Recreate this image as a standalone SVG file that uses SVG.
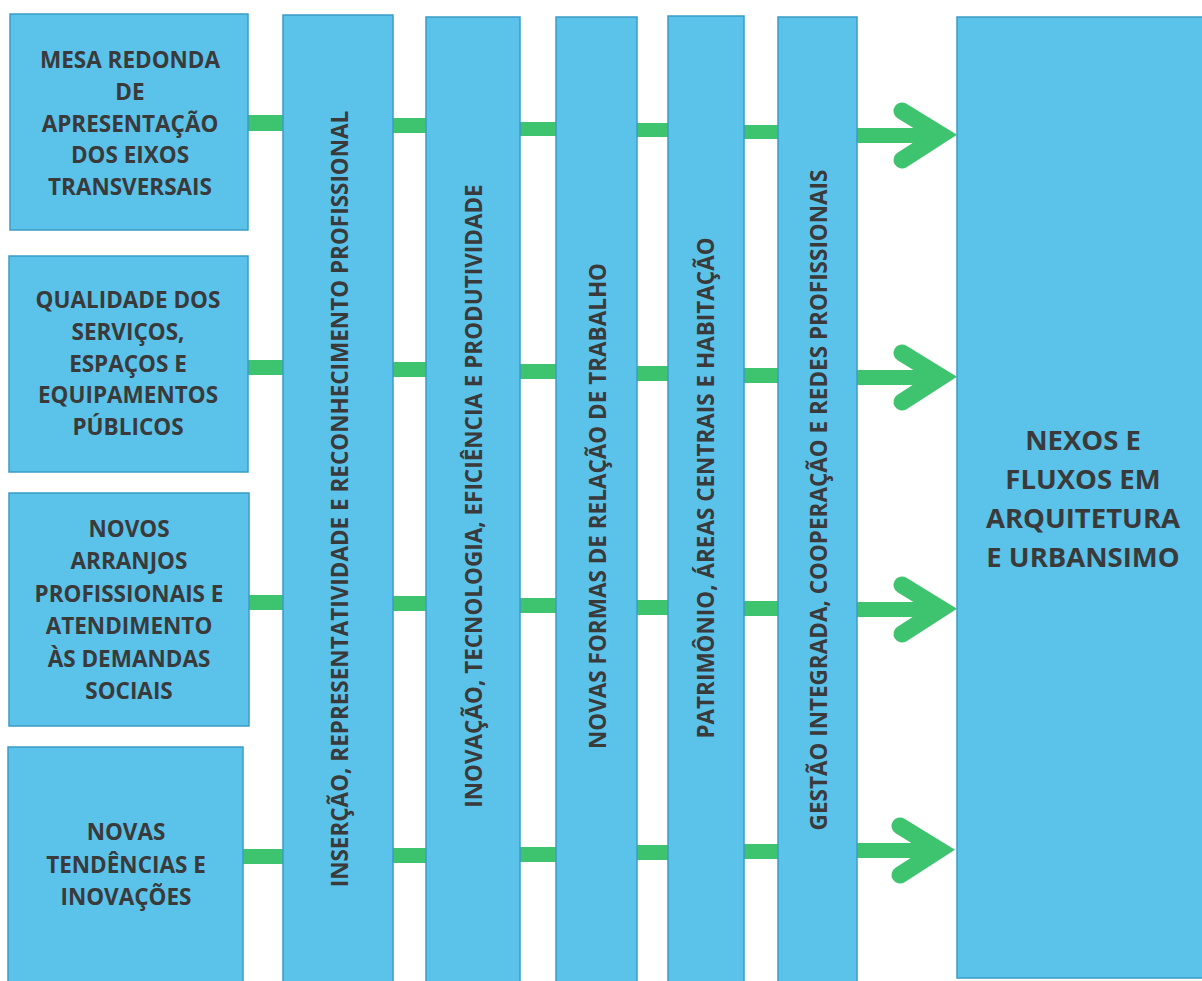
<svg xmlns="http://www.w3.org/2000/svg" width="1202" height="981" viewBox="0 0 1202 981">
<style>
.box{fill:#5bc2ea;stroke:#3a9cc6;stroke-width:1.5}
.t{font-family:"Open Sans","Liberation Sans",sans-serif;font-weight:700;fill:#3a3a3a;text-anchor:middle}
.lt{font-size:22.5px}
.vt{font-size:22.5px}
.rt{font-size:27.5px}
.ln{fill:#3ec46e}
.ah{fill:none;stroke:#3ec46e;stroke-width:17;stroke-linecap:round;stroke-linejoin:miter}
</style>
<rect width="1202" height="981" fill="#ffffff"/>
<g id="connectors">
<!-- row 1 -->
<rect class="ln" x="247" y="115" width="37" height="16"/>
<rect class="ln" x="392" y="118" width="35" height="15"/>
<rect class="ln" x="519" y="122" width="38" height="14"/>
<rect class="ln" x="636" y="123" width="33" height="14"/>
<rect class="ln" x="743" y="125" width="36" height="14"/>
<rect class="ln" x="856" y="128" width="75" height="15"/>
<polyline class="ah" points="902,111 941,135 902,160"/>
<!-- row 2 -->
<rect class="ln" x="247" y="360" width="37" height="15"/>
<rect class="ln" x="392" y="362" width="35" height="15"/>
<rect class="ln" x="519" y="364" width="38" height="15"/>
<rect class="ln" x="636" y="366" width="33" height="15"/>
<rect class="ln" x="743" y="368" width="36" height="15"/>
<rect class="ln" x="856" y="370" width="75" height="15"/>
<polyline class="ah" points="902,353 941,377 902,402"/>
<!-- row 3 -->
<rect class="ln" x="248" y="595" width="36" height="15"/>
<rect class="ln" x="392" y="596" width="35" height="15"/>
<rect class="ln" x="519" y="598" width="38" height="15"/>
<rect class="ln" x="636" y="600" width="33" height="15"/>
<rect class="ln" x="743" y="601" width="36" height="15"/>
<rect class="ln" x="856" y="602" width="75" height="15"/>
<polyline class="ah" points="902,585 941,609 902,634"/>
<!-- row 4 -->
<rect class="ln" x="242" y="849" width="42" height="15"/>
<rect class="ln" x="392" y="848" width="35" height="15"/>
<rect class="ln" x="519" y="847" width="38" height="15"/>
<rect class="ln" x="636" y="845" width="33" height="15"/>
<rect class="ln" x="743" y="844" width="36" height="15"/>
<rect class="ln" x="856" y="843" width="75" height="15"/>
<polyline class="ah" points="900,826 939,850 900,875"/>
</g>
<g id="box1">
<rect class="box" x="10" y="14" width="238" height="216"/>
<text class="t lt" x="130" y="68">MESA REDONDA</text>
<text class="t lt" x="130" y="100">DE</text>
<text class="t lt" x="130" y="132">APRESENTAÇÃO</text>
<text class="t lt" x="130" y="163">DOS EIXOS</text>
<text class="t lt" x="130" y="195">TRANSVERSAIS</text>
</g>
<g id="box2">
<rect class="box" x="9" y="256" width="239" height="216"/>
<text class="t lt" x="128" y="308">QUALIDADE DOS</text>
<text class="t lt" x="128" y="340">SERVIÇOS,</text>
<text class="t lt" x="128" y="372">ESPAÇOS E</text>
<text class="t lt" x="128" y="403">EQUIPAMENTOS</text>
<text class="t lt" x="128" y="435">PÚBLICOS</text>
</g>
<g id="box3">
<rect class="box" x="9" y="493" width="240" height="233"/>
<text class="t lt" x="129" y="537">NOVOS</text>
<text class="t lt" x="129" y="569">ARRANJOS</text>
<text class="t lt" x="129" y="602">PROFISSIONAIS E</text>
<text class="t lt" x="129" y="634">ATENDIMENTO</text>
<text class="t lt" x="129" y="667">ÀS DEMANDAS</text>
<text class="t lt" x="129" y="699">SOCIAIS</text>
</g>
<g id="box4">
<rect class="box" x="8" y="747" width="235" height="245"/>
<text class="t lt" x="126" y="840">NOVAS</text>
<text class="t lt" x="126" y="873">TENDÊNCIAS E</text>
<text class="t lt" x="126" y="905">INOVAÇÕES</text>
</g>
<g id="col1">
<rect class="box" x="283" y="15" width="110" height="980"/>
<text class="t vt" transform="translate(348,499) rotate(-90)">INSERÇÃO, REPRESENTATIVIDADE E RECONHECIMENTO PROFISSIONAL</text>
</g>
<g id="col2">
<rect class="box" x="426" y="17" width="94" height="980"/>
<text class="t vt" transform="translate(482,496) rotate(-90)">INOVAÇÃO, TECNOLOGIA, EFICIÊNCIA E PRODUTIVIDADE</text>
</g>
<g id="col3">
<rect class="box" x="556" y="17" width="81" height="980"/>
<text class="t vt" transform="translate(606,506) rotate(-90)">NOVAS FORMAS DE RELAÇÃO DE TRABALHO</text>
</g>
<g id="col4">
<rect class="box" x="668" y="16" width="76" height="980"/>
<text class="t vt" transform="translate(714,488) rotate(-90)">PATRIMÔNIO, ÁREAS CENTRAIS E HABITAÇÃO</text>
</g>
<g id="col5">
<rect class="box" x="778" y="17" width="79" height="980"/>
<text class="t vt" transform="translate(827,500) rotate(-90)">GESTÃO INTEGRADA, COOPERAÇÃO E REDES PROFISSIONAIS</text>
</g>
<g id="target">
<rect class="box" x="957" y="17" width="250" height="961"/>
<text class="t rt" x="1083" y="450">NEXOS E</text>
<text class="t rt" x="1083" y="489">FLUXOS EM</text>
<text class="t rt" x="1083" y="528">ARQUITETURA</text>
<text class="t rt" x="1083" y="567">E URBANSIMO</text>
</g>
</svg>
